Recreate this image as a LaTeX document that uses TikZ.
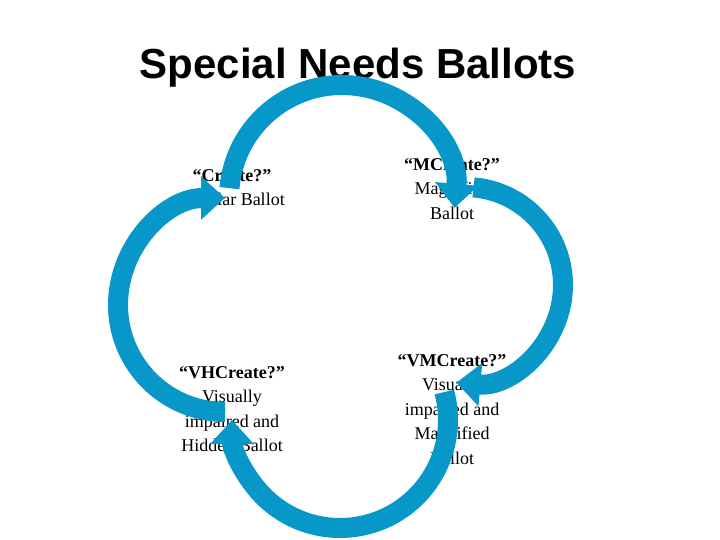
\documentclass[tikz,border=0pt]{standalone}
\usepackage{fontspec}
\setmainfont{Liberation Serif}
\newfontfamily\titlefont{Liberation Sans}
\usetikzlibrary{arrows.meta}
\definecolor{cyc}{HTML}{0797C8}
\tikzset{
  lbl/.style={align=center,font=\fontsize{18}{24.5}\selectfont,inner sep=0pt,anchor=north},
  ring/.style={draw=cyc,line width=20pt,-{Triangle[width=42pt,length=24pt]}}
}
\begin{document}
\begin{tikzpicture}[x=1pt,y=1pt]
\useasboundingbox (0,0) rectangle (720,540);
\node[font=\titlefont\bfseries\fontsize{42}{48}\selectfont] (title) at (358,472) {Special Needs Ballots};
\node[lbl] (reg) at (232,371) {\textbf{“Create?”}\\Regular Ballot};
\node[lbl] (mag) at (452,382) {\textbf{“MCreate?”}\\Magnified\\Ballot};
\node[lbl] (vh) at (232,174) {\textbf{“VHCreate?”}\\Visually\\impaired and\\Hidden Ballot};
\node[lbl] (vm) at (452,186) {\textbf{“VMCreate?”}\\Visually\\impaired and\\Magnified\\Ballot};
\draw[ring] (342,342) ++(175:113) arc (175:-5:113);
\draw[ring] (465,255) ++(85:98) arc (85:-95:98);
\draw[ring] (340,120) ++(15:108) arc (15:-180:108);
\draw[ring] (225,235) ++(-90:107) arc (-90:-270:107);
\end{tikzpicture}
\end{document}
